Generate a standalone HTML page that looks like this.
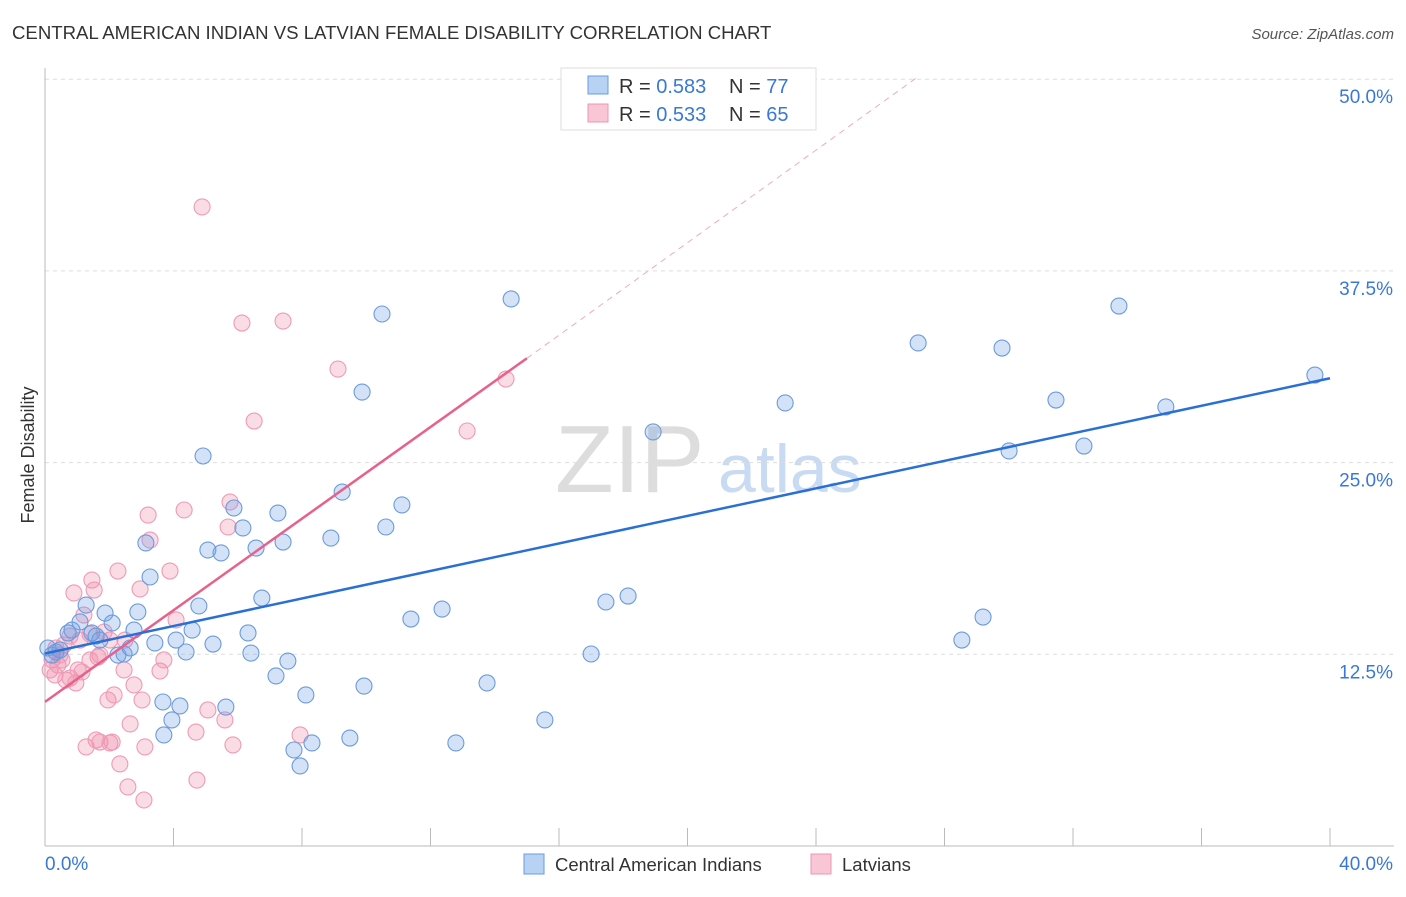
<!DOCTYPE html>
<html><head><meta charset="utf-8"><style>
body{margin:0;background:#fff;font-family:"Liberation Sans",sans-serif}
svg text{font-family:"Liberation Sans",sans-serif}
</style></head><body>
<svg id="c" width="1406" height="892">
<text x="12" y="39" font-size="18.6" fill="#333">CENTRAL AMERICAN INDIAN VS LATVIAN FEMALE DISABILITY CORRELATION CHART</text>
<text x="1394" y="39" font-size="15" fill="#555" font-style="italic" text-anchor="end">Source: ZipAtlas.com</text>
<text x="34" y="455" font-size="18" fill="#333" transform="rotate(-90 34 455)" text-anchor="middle">Female Disability</text>
<text x="555" y="492" font-size="96" fill="#ddd" font-family="Liberation Serif">ZIP</text>
<text x="718" y="492" font-size="68" fill="#c9daf3">atlas</text>
<g id="grid"></g><g id="pts"></g><g id="lines"></g>
<g>
<rect x="561" y="68" width="255" height="62" fill="#fff" stroke="#ddd"/>
<rect x="588" y="76" width="20" height="18" fill="#b8d2f3" stroke="#6a9be0"/>
<rect x="588" y="104" width="20" height="18" fill="#f8c6d5" stroke="#ee95b2"/>
<text x="619" y="93" font-size="20" fill="#333">R = <tspan fill="#3a78d6">0.583</tspan><tspan x="729">N = </tspan><tspan fill="#3a78d6">77</tspan></text>
<text x="619" y="121" font-size="20" fill="#333">R = <tspan fill="#3a78d6">0.533</tspan><tspan x="729">N = </tspan><tspan fill="#3a78d6">65</tspan></text>
</g>
<g>
<rect x="524" y="854" width="20" height="20" fill="#b8d2f3" stroke="#6a9be0"/>
<text x="555" y="871" font-size="18.5" fill="#333">Central American Indians</text>
<rect x="811" y="854" width="20" height="20" fill="#f8c6d5" stroke="#ee95b2"/>
<text x="842" y="871" font-size="18.5" fill="#333">Latvians</text>
</g>
</svg>
<script>
const yTicks=[12.5,25,37.5,50];
const xTickLabels=["0.0%","40.0%"];
const bluePx=[[48,648],[52,655],[56,652],[60,650],[68,633],[72,630],[80,622],[86,605],[92,633],[96,636],[100,640],[105,613],[112,623],[118,655],[124,654],[130,648],[134,630],[138,612],[146,543],[150,577],[155,643],[163,702],[164,735],[172,720],[176,640],[180,706],[186,652],[192,630],[199,606],[203,456],[208,550],[213,644],[221,553],[226,707],[234,508],[243,528],[248,633],[251,653],[256,548],[262,598],[276,676],[278,513],[283,542],[288,661],[294,750],[300,766],[306,695],[312,743],[331,538],[342,492],[350,738],[362,392],[364,686],[382,314],[386,527],[402,505],[411,619],[442,609],[456,743],[487,683],[511,299],[545,720],[591,654],[606,602],[628,596],[653,432],[785,403],[918,343],[962,640],[983,617],[1002,348],[1009,451],[1056,400],[1084,446],[1119,306],[1166,407],[1315,375]];
const pinkPx=[[50,670],[52,660],[55,675],[58,665],[62,660],[66,680],[70,678],[74,593],[76,683],[78,670],[80,640],[82,672],[84,615],[86,747],[90,634],[92,580],[94,590],[96,740],[98,657],[100,742],[104,632],[108,700],[110,743],[112,742],[114,695],[118,571],[120,764],[124,670],[128,787],[130,724],[134,685],[140,589],[142,700],[144,800],[145,747],[148,515],[150,540],[160,671],[164,660],[170,571],[176,620],[184,510],[196,732],[197,780],[202,207],[208,710],[225,720],[228,527],[230,502],[233,745],[242,323],[254,421],[283,321],[300,735],[338,369],[467,431],[506,379],[56,648],[60,655],[64,645],[70,636],[100,655],[110,640],[125,640],[90,660]];
const X0=45,X1=1330,Y0=846,YS=191.7/12.5;
const blueX=bluePx.map(p=>+((p[0]-X0)/(X1-X0)*40).toFixed(2));
const blueY=bluePx.map(p=>+((Y0-p[1])/YS).toFixed(2));
const pinkX=pinkPx.map(p=>+((p[0]-X0)/(X1-X0)*40).toFixed(2));
const pinkY=pinkPx.map(p=>+((Y0-p[1])/YS).toFixed(2));
const blueLine=[[0,12.55],[40,30.5]];
const pinkLine=[[0,9.4],[15,31.8]];
const pinkDash=[[15,31.8],[27.2,50.2]];
const sx=v=>X0+v/40*(X1-X0), sy=v=>Y0-v*YS;
const NS="http://www.w3.org/2000/svg";
function mk(t,a,p){const e=document.createElementNS(NS,t);for(const k in a)e.setAttribute(k,a[k]);p.appendChild(e);return e;}
const g=document.getElementById('grid');
yTicks.forEach(t=>{
 const l=mk('line',{x1:45,x2:1394,y1:sy(t),y2:sy(t),stroke:'#ddd','stroke-dasharray':'4 4'},g);
 
 
 const tx=mk('text',{x:1393,y:sy(t)+24,'font-size':19,fill:'#3a78d6','text-anchor':'end'},g);tx.textContent=t.toFixed(1)+'%';
 
 
});
mk('line',{x1:45,x2:45,y1:68,y2:846,stroke:'#bbb'},g);
mk('line',{x1:45,x2:1394,y1:846,y2:846,stroke:'#bbb'},g);
for(let i=0;i<=10;i++){mk('line',{x1:sx(i*4),x2:sx(i*4),y1:828,y2:846,stroke:'#bbb'},g);}
const t0=mk('text',{x:45,y:870,'font-size':19,fill:'#3a78d6'},g);t0.textContent=xTickLabels[0];


const t1=mk('text',{x:1393,y:870,'font-size':19,fill:'#3a78d6','text-anchor':'end'},g);t1.textContent=xTickLabels[1];


const pg=document.getElementById('pts');
function dots(xs,ys,fill,st,name){xs.forEach((x,i)=>{const c=mk('circle',{cx:sx(x),cy:sy(ys[i]),r:8,fill:fill,stroke:st,'stroke-width':1.1},pg);
 
 });}
dots(pinkX,pinkY,'rgba(240,140,170,0.3)','#ef9ab6','latvian-point');
dots(blueX,blueY,'rgba(110,160,230,0.3)','#6b9bdc','central-american-point');
const lg=document.getElementById('lines');
function ln(p,st,extra,name){const l=mk('line',Object.assign({x1:sx(p[0][0]),y1:sy(p[0][1]),x2:sx(p[1][0]),y2:sy(p[1][1]),stroke:st},extra),lg);
 
 }
ln(pinkDash,'#eeaac0',{'stroke-width':1,'stroke-dasharray':'6 5'},'latvian-trend-extension');
ln(pinkLine,'#e8608c',{'stroke-width':2.5},'latvian-trend-line');
ln(blueLine,'#2a6fd6',{'stroke-width':2.5},'central-american-trend-line');
</script>
</body></html>
